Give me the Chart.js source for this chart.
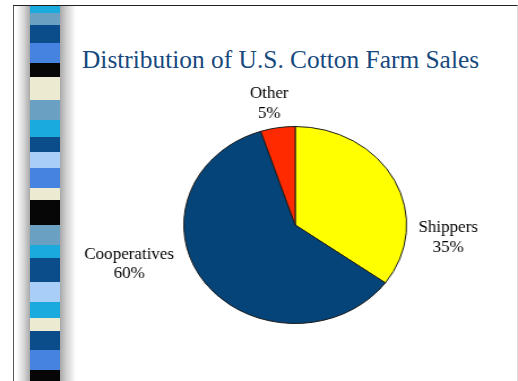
<!DOCTYPE html>
<html>
<head>
<meta charset="utf-8">
<script src="https://cdn.jsdelivr.net/npm/chart.js@4"></script>
<style>
    html, body { margin: 0; padding: 0; background: #fff; }
    #slide { position: relative; width: 518px; height: 381px; overflow: hidden; background: #fff; }
    #frame { position: absolute; left: 13px; top: 5px; width: 503px; height: 380px; border-top: 1px solid #222; border-left: 1px solid #555; border-right: 1px solid #ddd; }
    #shade { position: absolute; left: 16px; top: 6px; width: 60px; height: 375px;
        background: linear-gradient(to right, #fff 0px, #d6d6d6 8px, #a8a8a8 14px, #a8a8a8 44px, #cfcfcf 50px, #fff 60px); }
    .blk { position: absolute; left: 30px; width: 30px; }
    #title { position: absolute; left: 82px; top: 45px; font-family: "Liberation Serif", "Times New Roman", serif; font-size: 25.4px; color: #17497e; white-space: nowrap; }
    #chart { position: absolute; left: 0; top: 0; width: 518px; height: 381px; }
</style>
</head>
<body>
<div id="slide">
    <div id="frame"></div>
    <div id="shade"></div>
    <div id="strip"></div>
    <div id="title">Distribution of U.S. Cotton Farm Sales</div>
    <canvas id="chart" width="458" height="381" style="width:518px;height:381px"></canvas>
</div>
<script>
// dados do gráfico
const categories = ['Shippers', 'Cooperatives', 'Other'];
const shares = [35, 60, 5];
const sliceColors = ['#ffff00', '#044479', '#ff2a00'];

// faixa decorativa à esquerda (início y, cor)
const stripBlocks = [
    [6, '#1aaade'], [13, '#6aa0c2'], [25, '#0b4c8a'], [43, '#4682e0'], [63, '#060606'],
    [77, '#ecead0'], [100, '#6aa0c2'], [120, '#1aaade'], [137, '#0b4c8a'], [152, '#a9cff8'],
    [168, '#4682e0'], [188, '#ecead0'], [200, '#060606'], [225, '#6aa0c2'], [245, '#1aaade'],
    [258, '#0b4c8a'], [282, '#a9cff8'], [302, '#1aaade'], [318, '#ecead0'], [331, '#0b4c8a'],
    [350, '#4682e0'], [370, '#060606']
];

const strip = document.getElementById('strip');
stripBlocks.forEach((b, i) => {
    const next = i < stripBlocks.length - 1 ? stripBlocks[i + 1][0] : 381;
    const d = document.createElement('div');
    d.className = 'blk';
    d.style.top = b[0] + 'px';
    d.style.height = (next - b[0]) + 'px';
    d.style.background = b[1];
    strip.appendChild(d);
});

// rótulos das fatias (texto compensado pelo esticamento horizontal do canvas)
const sliceLabels = {
    id: 'sliceLabels',
    afterDatasetsDraw(chart, args, opts) {
        const ctx = chart.ctx;
        const sx = chart.canvas.clientWidth / chart.width;
        chart.getDatasetMeta(0).data.forEach((arc, i) => {
            const [dx, dy] = opts.offsets[i];
            ctx.save();
            ctx.translate(arc.x + dx / sx, arc.y + dy);
            ctx.scale(1 / sx, 1);
            ctx.font = '17px "Liberation Serif", "Times New Roman", serif';
            ctx.fillStyle = '#000';
            ctx.textAlign = 'center';
            ctx.textBaseline = 'middle';
            ctx.fillText(categories[i], 0, -opts.lineGap / 2);
            ctx.fillText(shares[i] + '%', 0, opts.lineGap / 2);
            ctx.restore();
        });
    }
};

new Chart(document.getElementById('chart'), {
    type: 'pie',
    data: {
        labels: categories,
        datasets: [{
            data: shares,
            backgroundColor: sliceColors,
            borderColor: '#1a1a1a',
            borderWidth: 1
        }]
    },
    options: {
        responsive: false,
        animation: false,
        layout: { padding: { left: 162, right: 98, top: 126, bottom: 57 } },
        plugins: {
            legend: { display: false },
            tooltip: { enabled: false },
            sliceLabels: {
                offsets: [[153, 12.6], [-166, 39], [-26, -121.3]],
                lineGap: 19.5
            }
        }
    },
    plugins: [sliceLabels]
});
</script>
</body>
</html>
